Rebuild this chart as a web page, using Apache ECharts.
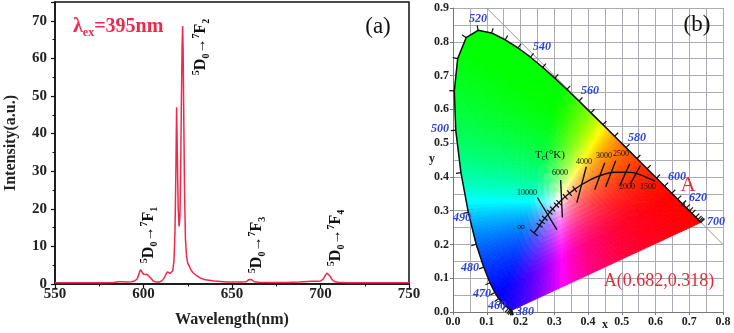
<!DOCTYPE html>
<html>
<head>
<meta charset="utf-8">
<title>Emission spectrum and CIE chromaticity</title>
<script src="https://cdn.jsdelivr.net/npm/echarts@6/dist/echarts.min.js"></script>
<style>
html, body { margin: 0; padding: 0; background: #fff; }
#chart { width: 734px; height: 333px; }
</style>
</head>
<body>
<div id="chart"></div>
<script>
// (a) emission spectrum, excited at 395 nm
var wavelength = [550, 560, 570, 578, 583, 586, 587, 588, 590, 593, 595, 596.5, 597.5, 598.3, 599, 600, 601, 602.2, 603, 604,
    605.5, 607, 609, 610.5, 611.5, 612.5, 613.5, 614.2, 615, 615.8, 616.5, 617.2, 617.8, 618.3, 618.7, 619.1, 619.6, 620.1,
    620.6, 621.0, 621.4, 621.8, 622.1, 622.4, 622.8, 623.2, 623.7, 624.3, 625, 626, 627, 628, 630, 632, 635, 640, 647, 655,
    658, 659.3, 660.2, 661, 662.5, 665, 672, 680, 688, 695, 698, 700, 701.5, 702.7, 703.6, 704.5, 705.5, 706.5, 708, 710,
    715, 725, 740, 750];
var intensity = [0.3, 0.3, 0.3, 0.35, 0.4, 0.6, 0.8, 0.6, 0.5, 0.6, 0.8, 1.4, 2.8, 3.8, 3.6, 2.6, 2.2, 2.5, 2.3, 1.6,
    0.8, 0.5, 0.5, 0.9, 1.5, 2.4, 3.2, 3.3, 2.8, 2.7, 3.5, 6, 14, 30, 47, 35, 20, 15.3,
    18, 30, 48, 63, 68.6, 62, 42, 24, 12, 7.5, 5.5, 4.6, 3.6, 3.0, 2.2, 1.6, 1.1, 0.8, 0.55, 0.5,
    0.6, 1.1, 1.5, 1.2, 0.6, 0.45, 0.4, 0.4, 0.5, 0.7, 0.7, 0.8, 1.3, 2.3, 2.9, 2.8, 2.0, 1.2, 0.6, 0.45,
    0.35, 0.3, 0.3, 0.3];

// (b) CIE 1931 spectral locus
var locusNm = [380, 390, 400, 410, 420, 430, 440, 450, 460, 465, 470, 475, 480, 485, 490, 495, 500, 505, 510, 515,
    520, 525, 530, 535, 540, 545, 550, 555, 560, 565, 570, 575, 580, 585, 590, 595, 600, 605, 610, 615, 620,
    625, 630, 640, 650, 660, 680, 700];
var locusX = [0.1741, 0.1738, 0.1733, 0.1726, 0.1714, 0.1689, 0.1644, 0.1566, 0.1440, 0.1355, 0.1241, 0.1096, 0.0913,
    0.0687, 0.0454, 0.0235, 0.0082, 0.0039, 0.0139, 0.0389, 0.0743, 0.1142, 0.1547, 0.1929, 0.2296, 0.2658, 0.3016,
    0.3373, 0.3731, 0.4087, 0.4441, 0.4788, 0.5125, 0.5448, 0.5752, 0.6029, 0.6270, 0.6482, 0.6658, 0.6801, 0.6915,
    0.7006, 0.7079, 0.7190, 0.7260, 0.7300, 0.7334, 0.7347];
var locusY = [0.0050, 0.0049, 0.0048, 0.0048, 0.0051, 0.0069, 0.0109, 0.0177, 0.0297, 0.0399, 0.0578, 0.0868, 0.1327,
    0.2007, 0.2950, 0.4127, 0.5384, 0.6548, 0.7502, 0.8120, 0.8338, 0.8262, 0.8059, 0.7816, 0.7543, 0.7243, 0.6923,
    0.6589, 0.6245, 0.5896, 0.5547, 0.5202, 0.4866, 0.4544, 0.4242, 0.3965, 0.3725, 0.3514, 0.3340, 0.3197, 0.3083,
    0.2993, 0.2920, 0.2809, 0.2740, 0.2700, 0.2666, 0.2653];

// Planckian locus
var planckT = [1400, 1500, 1800, 2000, 2500, 3000, 3500, 4000, 4500, 5000, 5500, 6000, 6500, 7000, 8000, 9000,
    10000, 12000, 15000, 20000, 30000, Infinity];
var planckX = [0.5985, 0.5857, 0.5497, 0.5267, 0.4770, 0.4369, 0.4053, 0.3805, 0.3608, 0.3451, 0.3325, 0.3221,
    0.3135, 0.3064, 0.2952, 0.2869, 0.2807, 0.2720, 0.2637, 0.2565, 0.2501, 0.2399];
var planckY = [0.3868, 0.3931, 0.4081, 0.4133, 0.4137, 0.4041, 0.3907, 0.3768, 0.3636, 0.3516, 0.3411, 0.3318,
    0.3237, 0.3166, 0.3048, 0.2956, 0.2883, 0.2776, 0.2671, 0.2567, 0.2471, 0.2342];
var planckTickT = [4500, 5000, 5500, 6500, 7000, 8000, 9000, 12000, 15000, 20000];

// isotherm segments: [x1, y1, x2, y2]
var isoT = [10000, 6000, 4000, 3000, 2500, 2000, 1500];
var isoLines = [
    [0.250, 0.339, 0.308, 0.243],
    [0.319, 0.391, 0.324, 0.280],
    [0.395, 0.430, 0.367, 0.324],
    [0.4495, 0.4416, 0.4198, 0.3619],
    [0.4821, 0.4475, 0.4524, 0.3708],
    [0.5236, 0.4386, 0.4939, 0.3737],
    [0.5550, 0.4330, 0.5260, 0.3800]
];

var pointA = [0.682, 0.318];
var diagX = [0.1, 0.8];
var diagY = [0.9, 0.2];

var SERIF = "'Liberation Serif', 'DejaVu Serif', serif";
var RED = '#f0284a';
var BLUE = '#2a3fe0';
var WHITE = [0.32, 0.33];

// xy -> display colour for the gamut fill (clipped, max-normalised, no gamma: vivid like the original)
function chromaColor(x, y) {
    var X = x / y, Z = (1 - x - y) / y;
    var r = 3.2406 * X - 1.5372 - 0.4986 * Z;
    var g = -0.9689 * X + 1.8758 + 0.0415 * Z;
    var b = 0.0557 * X - 0.2040 + 1.0570 * Z;
    r = Math.max(r, 0); g = Math.max(g, 0); b = Math.max(b, 0);
    var m = Math.max(r, g, b);
    function ch(v) { return Math.round(255 * Math.pow(v / m, 1.1)); }
    return 'rgb(' + ch(r) + ',' + ch(g) + ',' + ch(b) + ')';
}

// closed outline: locus edges split finer, then the purple line back to 380
function gamutOutline() {
    var pts = [], i, k, n;
    for (i = 0; i < locusX.length - 1; i++) {
        var x0 = locusX[i], y0 = locusY[i], x1 = locusX[i + 1], y1 = locusY[i + 1];
        n = Math.max(1, Math.ceil(Math.hypot(x1 - x0, y1 - y0) / 0.012));
        for (k = 0; k < n; k++) pts.push([x0 + (x1 - x0) * k / n, y0 + (y1 - y0) * k / n]);
    }
    var last = locusX.length - 1;
    n = 40;
    for (k = 0; k < n; k++) {
        pts.push([locusX[last] + (locusX[0] - locusX[last]) * k / n,
                  locusY[last] + (locusY[0] - locusY[last]) * k / n]);
    }
    return pts;
}

function lerp(a, b, t) { return [a[0] + (b[0] - a[0]) * t, a[1] + (b[1] - a[1]) * t]; }

function renderFill(params, api) {
    var pts = gamutOutline(), K = 18, children = [];
    for (var i = 0; i < pts.length; i++) {
        var a = pts[i], b = pts[(i + 1) % pts.length];
        var mid = lerp(a, b, 0.5);
        for (var k = 0; k < K; k++) {
            var t0 = k / K, t1 = (k + 1) / K;
            var c = lerp(WHITE, mid, (t0 + t1) / 2);
            var col = chromaColor(c[0], c[1]);
            children.push({
                type: 'polygon',
                shape: { points: [lerp(WHITE, a, t0), lerp(WHITE, a, t1), lerp(WHITE, b, t1), lerp(WHITE, b, t0)].map(api.coord) },
                style: { fill: col, stroke: col, lineWidth: 0.8 }
            });
        }
    }
    return { type: 'group', children: children };
}

function renderLocusTicks(params, api) {
    var w = api.coord(WHITE), children = [], n = locusX.length;
    for (var i = 0; i < n; i++) {
        var p = api.coord([locusX[i], locusY[i]]);
        var pa = api.coord([locusX[Math.max(i - 1, 0)], locusY[Math.max(i - 1, 0)]]);
        var pb = api.coord([locusX[Math.min(i + 1, n - 1)], locusY[Math.min(i + 1, n - 1)]]);
        var tx = pb[0] - pa[0], ty = pb[1] - pa[1], len = Math.hypot(tx, ty) || 1;
        var nx = -ty / len, ny = tx / len;
        if (nx * (p[0] - w[0]) + ny * (p[1] - w[1]) < 0) { nx = -nx; ny = -ny; }
        children.push({
            type: 'line',
            shape: { x1: p[0], y1: p[1], x2: p[0] + nx * 5, y2: p[1] + ny * 5 },
            style: { stroke: '#111', lineWidth: 1.2 }
        });
    }
    return { type: 'group', children: children };
}

function renderPlanckTicks(params, api) {
    var children = [], n = planckT.length;
    var marks = planckTickT.concat([Infinity]);
    marks.forEach(function (t) {
        var i = planckT.indexOf(t);
        var p = api.coord([planckX[i], planckY[i]]);
        var pa = api.coord([planckX[Math.max(i - 1, 0)], planckY[Math.max(i - 1, 0)]]);
        var pb = api.coord([planckX[Math.min(i + 1, n - 1)], planckY[Math.min(i + 1, n - 1)]]);
        var tx = pb[0] - pa[0], ty = pb[1] - pa[1], len = Math.hypot(tx, ty) || 1;
        var nx = -ty / len, ny = tx / len, h = t === Infinity ? 5 : 3.5;
        children.push({
            type: 'line',
            shape: { x1: p[0] - nx * h, y1: p[1] - ny * h, x2: p[0] + nx * h, y2: p[1] + ny * h },
            style: { stroke: '#111', lineWidth: 1.2 }
        });
    });
    return { type: 'group', children: children };
}

function renderIso(params, api) {
    var p1 = api.coord([api.value(0), api.value(1)]);
    var p2 = api.coord([api.value(2), api.value(3)]);
    return {
        type: 'line',
        shape: { x1: p1[0], y1: p1[1], x2: p2[0], y2: p2[1] },
        style: { stroke: '#111', lineWidth: 1.4 }
    };
}

function txt(x, y, text, style, rot) {
    return {
        type: 'text', x: x, y: y, rotation: rot || 0, silent: true, z: 100,
        style: Object.assign({ text: text, align: 'center', verticalAlign: 'middle', fontFamily: SERIF }, style)
    };
}

function transition(x, y, n) {
    var base = { fontFamily: SERIF, fontWeight: 'bold', fill: '#111' };
    return txt(x, y, '{sup|5}{m|D}{sub|0}{a|→}{sup|7}{m|F}{sub|' + n + '}', {
        rich: {
            m: Object.assign({ fontSize: 16, lineHeight: 20 }, base),
            a: Object.assign({ fontSize: 15, lineHeight: 20 }, base),
            sup: Object.assign({ fontSize: 10, lineHeight: 10, verticalAlign: 'top' }, base),
            sub: Object.assign({ fontSize: 10, lineHeight: 10, verticalAlign: 'bottom' }, base)
        }
    }, Math.PI / 2);
}

function blue(x, y, s) {
    return txt(x, y, s, { fontSize: 12, fontWeight: 'bold', fontStyle: 'italic', fill: BLUE });
}

function small(x, y, s) {
    return txt(x, y, s, { fontSize: 8, fill: '#111' });
}

var axisA = {
    fontFamily: SERIF, fontWeight: 'bold', color: '#222'
};
var GRIDLINE = '#a9adb3';

var myChart = echarts.init(document.getElementById('chart'));
myChart.setOption({
    animation: false,
    grid: [
        { left: 55, right: 325, top: 2, bottom: 46, show: true, borderColor: '#111', borderWidth: 1.5 },
        { left: 453, right: 11, top: 8, bottom: 21 }
    ],
    xAxis: [
        {
            gridIndex: 0,
            type: 'value',
            min: 550,
            max: 750,
            interval: 50,
            name: 'Wavelength(nm)',
            nameLocation: 'middle',
            nameGap: 28,
            nameTextStyle: Object.assign({ fontSize: 16 }, axisA),
            axisLine: { lineStyle: { color: '#111', width: 1.5 } },
            axisTick: { length: 4, lineStyle: { color: '#111', width: 1.2 } },
            minorTick: { show: true, splitNumber: 2, length: 2.5, lineStyle: { color: '#111' } },
            axisLabel: Object.assign({ fontSize: 15, margin: 3 }, axisA),
            splitLine: { show: false }
        },
        {
            gridIndex: 1,
            type: 'value',
            min: 0,
            max: 0.8,
            interval: 0.1,
            axisLine: { lineStyle: { color: '#777' } },
            axisTick: { length: 3, lineStyle: { color: '#777' } },
            axisLabel: Object.assign({ fontSize: 12, margin: 4, formatter: function (v) { return v.toFixed(1); } }, axisA),
            splitLine: { show: true, lineStyle: { color: GRIDLINE } },
            minorTick: { show: false, splitNumber: 2 },
            minorSplitLine: { show: true, lineStyle: { color: GRIDLINE } }
        }
    ],
    yAxis: [
        {
            gridIndex: 0,
            type: 'value',
            min: 0,
            max: 75,
            interval: 10,
            name: 'Intensity(a.u.)',
            nameLocation: 'middle',
            nameGap: 36,
            nameTextStyle: Object.assign({ fontSize: 16 }, axisA),
            axisLine: { lineStyle: { color: '#111', width: 1.5 } },
            axisTick: { length: 4, lineStyle: { color: '#111', width: 1.2 } },
            minorTick: { show: true, splitNumber: 2, length: 2.5, lineStyle: { color: '#111' } },
            axisLabel: Object.assign({ fontSize: 15, margin: 8, showMaxLabel: false }, axisA),
            splitLine: { show: false }
        },
        {
            gridIndex: 1,
            type: 'value',
            min: 0,
            max: 0.9,
            interval: 0.1,
            axisLine: { lineStyle: { color: '#777' } },
            axisTick: { length: 3, lineStyle: { color: '#777' } },
            axisLabel: Object.assign({ fontSize: 12, margin: 4, formatter: function (v) { return v.toFixed(1); } }, axisA),
            splitLine: { show: true, lineStyle: { color: GRIDLINE } },
            minorTick: { show: false, splitNumber: 2 },
            minorSplitLine: { show: true, lineStyle: { color: GRIDLINE } }
        }
    ],
    series: [
        {
            name: 'emission',
            type: 'line',
            xAxisIndex: 0,
            yAxisIndex: 0,
            data: wavelength.map(function (w, i) { return [w, intensity[i]]; }),
            showSymbol: false,
            lineStyle: { color: RED, width: 1.5 },
            silent: true
        },
        {
            name: 'gamut',
            type: 'custom',
            xAxisIndex: 1,
            yAxisIndex: 1,
            data: [[0, 0]],
            renderItem: renderFill,
            silent: true,
            z: 2
        },
        {
            name: 'x+y=1',
            type: 'line',
            xAxisIndex: 1,
            yAxisIndex: 1,
            data: diagX.map(function (x, i) { return [x, diagY[i]]; }),
            showSymbol: false,
            lineStyle: { color: '#999', width: 1 },
            silent: true,
            z: 1
        },
        {
            name: 'locus',
            type: 'line',
            xAxisIndex: 1,
            yAxisIndex: 1,
            data: locusX.map(function (x, i) { return [x, locusY[i]]; }),
            showSymbol: false,
            lineStyle: { color: '#111', width: 1.5 },
            silent: true,
            z: 4
        },
        {
            name: 'locus ticks',
            type: 'custom',
            xAxisIndex: 1,
            yAxisIndex: 1,
            data: [[0, 0]],
            renderItem: renderLocusTicks,
            silent: true,
            z: 4
        },
        {
            name: 'planck',
            type: 'line',
            xAxisIndex: 1,
            yAxisIndex: 1,
            data: planckX.map(function (x, i) { return [x, planckY[i]]; }),
            showSymbol: false,
            smooth: 0.3,
            lineStyle: { color: '#111', width: 1.4 },
            silent: true,
            z: 5
        },
        {
            name: 'planck ticks',
            type: 'custom',
            xAxisIndex: 1,
            yAxisIndex: 1,
            data: [[0, 0]],
            renderItem: renderPlanckTicks,
            silent: true,
            z: 5
        },
        {
            name: 'isotherms',
            type: 'custom',
            xAxisIndex: 1,
            yAxisIndex: 1,
            data: isoLines,
            encode: { x: [0, 2], y: [1, 3] },
            renderItem: renderIso,
            silent: true,
            z: 5
        },
        {
            name: 'A',
            type: 'scatter',
            xAxisIndex: 1,
            yAxisIndex: 1,
            data: [pointA],
            symbolSize: 4,
            itemStyle: { color: '#222' },
            silent: true,
            z: 6
        }
    ],
    graphic: {
        elements: [
            txt(73, 27, '{l|λ}{s|ex}{l|=395nm}', {
                align: 'left',
                rich: {
                    l: { fontFamily: SERIF, fontWeight: 'bold', fontSize: 20, lineHeight: 24, fill: RED },
                    s: { fontFamily: SERIF, fontWeight: 'bold', fontSize: 12, lineHeight: 12, verticalAlign: 'bottom', fill: RED }
                }
            }),
            txt(378, 27, '(a)', { fontSize: 23, fill: '#111' }),
            transition(201, 47, '2'),
            transition(149, 235, '1'),
            transition(257, 245, '3'),
            transition(336, 238, '4'),

            txt(697, 25, '(b)', { fontSize: 23, fill: '#111' }),
            txt(605, 325, 'x', { fontSize: 12, fontWeight: 'bold', fill: '#222' }),
            txt(432, 159, 'y', { fontSize: 12, fontWeight: 'bold', fill: '#222' }),
            blue(478, 19, '520'),
            blue(542, 47, '540'),
            blue(590, 91, '560'),
            blue(637, 138, '580'),
            blue(677, 177, '600'),
            blue(698, 198, '620'),
            blue(716, 222, '700'),
            blue(440, 129, '500'),
            blue(462, 218, '490'),
            blue(470, 268, '480'),
            blue(482, 294, '470'),
            blue(497, 306, '460'),
            blue(525, 312, '380'),
            txt(550, 155, '{t|T}{s|c}{t|(°K)}', {
                rich: {
                    t: { fontFamily: SERIF, fontSize: 11, lineHeight: 14, fill: '#111' },
                    s: { fontFamily: SERIF, fontSize: 8, lineHeight: 8, verticalAlign: 'bottom', fill: '#111' }
                }
            }),
            small(527, 193, '10000'),
            small(560, 172.5, '6000'),
            small(584, 161.5, '4000'),
            small(604, 156, '3000'),
            small(621, 154, '2500'),
            small(627, 187, '2000'),
            small(648, 187, '1500'),
            txt(521, 227, '∞', { fontSize: 11, fill: '#111' }),
            txt(688, 185, 'A', { fontSize: 21, fill: '#e8283c' }),
            txt(659, 281, 'A(0.682,0.318)', { fontSize: 18, fill: '#e8283c' })
        ]
    }
});
</script>
</body>
</html>
